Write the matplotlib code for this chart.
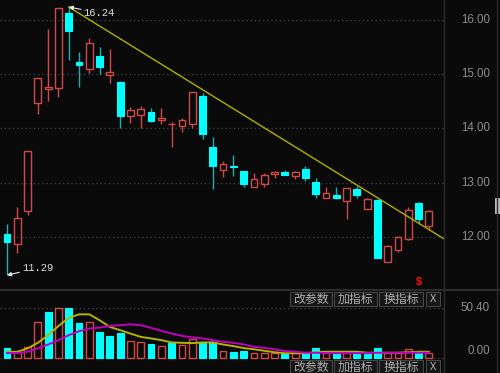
import matplotlib
matplotlib.use("Agg")
import matplotlib.pyplot as plt
from matplotlib.lines import Line2D
from matplotlib.patches import Rectangle

# ── daily k-line data ────────────────────────────────────────────────────────
opens  = [12.05, 11.87, 12.47, 14.47, 14.73, 14.75, 16.13, 15.22, 15.10, 15.34,
          14.99, 14.86, 14.23, 14.24, 14.30, 14.15, 14.08, 14.04, 14.08, 14.59,
          13.65, 13.24, 13.30, 13.22, 12.91, 12.97, 13.15, 13.19, 13.12, 13.25,
          13.01, 12.71, 12.77, 12.66, 12.88, 12.51, 12.68, 11.53, 11.76, 11.96,
          12.63, 12.20]
highs  = [12.23, 12.55, 13.58, 14.93, 15.83, 16.22, 16.24, 15.41, 15.67, 15.50,
          15.46, 14.87, 14.40, 14.42, 14.38, 14.37, 14.12, 14.20, 14.68, 14.65,
          13.84, 13.39, 13.51, 13.22, 13.18, 13.18, 13.21, 13.24, 13.21, 13.31,
          13.08, 12.92, 12.92, 12.90, 12.94, 12.72, 12.69, 11.85, 12.02, 12.54,
          12.64, 12.49]
lows   = [11.29, 11.70, 12.40, 14.26, 14.50, 14.58, 15.26, 14.76, 15.02, 15.00,
          14.84, 14.01, 14.10, 14.00, 14.12, 14.08, 13.65, 13.93, 14.01, 13.80,
          12.88, 13.10, 13.12, 12.92, 12.91, 12.92, 13.08, 13.13, 13.06, 13.02,
          12.71, 12.71, 12.69, 12.32, 12.71, 12.51, 11.60, 11.53, 11.71, 11.93,
          12.24, 12.12]
closes = [11.90, 12.35, 13.58, 14.93, 14.76, 16.22, 15.80, 15.17, 15.58, 15.13,
          15.04, 14.23, 14.33, 14.36, 14.14, 14.19, 14.08, 14.15, 14.67, 13.90,
          13.31, 13.35, 13.29, 12.97, 13.06, 13.13, 13.19, 13.13, 13.20, 13.08,
          12.78, 12.80, 12.72, 12.90, 12.77, 12.70, 11.60, 11.83, 12.00, 12.49,
          12.32, 12.48]

volumes  = [9.5, 6.0, 10.3, 36.0, 46.0, 50.4, 50.4, 35.4, 36.0, 26.0,
            22.0, 25.0, 16.7, 16.0, 13.4, 11.7, 14.4, 12.7, 18.7, 16.0,
            16.0, 6.7, 6.0, 7.0, 5.0, 5.0, 4.4, 3.4, 4.4, 6.0,
            9.4, 4.4, 4.4, 4.4, 3.7, 3.7, 9.4, 4.4, 4.4, 8.4,
            4.4, 4.4]
vol_ma5  = [6.0, 6.0, 9.4, 15.0, 22.7, 32.0, 40.0, 43.7, 43.7, 37.7,
            31.0, 27.7, 24.3, 21.0, 19.4, 17.7, 15.4, 15.0, 14.7, 15.4,
            15.4, 13.3, 11.7, 9.7, 8.5, 7.0, 5.5, 4.5, 4.5, 4.5,
            5.5, 6.0, 6.0, 6.0, 6.0, 5.0, 5.0, 5.0, 5.0, 5.5,
            6.0, 6.0]
vol_ma10 = [4.7, 4.7, 6.0, 9.4, 13.3, 17.7, 22.7, 26.7, 29.4, 30.4,
            32.0, 32.7, 33.7, 32.7, 30.0, 27.0, 24.4, 22.0, 20.4, 19.4,
            17.7, 16.0, 15.0, 13.4, 11.0, 10.0, 8.4, 6.7, 6.0, 5.0,
            5.0, 4.6, 4.6, 4.6, 4.6, 4.6, 5.0, 5.0, 5.0, 5.0,
            5.0, 5.0]

price_ticks = [12.00, 13.00, 14.00, 15.00, 16.00]
vol_ticks   = [0.00, 50.40]

# trend line drawn by the user (candle index, price)
trend_x = [6, 42.47]
trend_y = [16.24, 11.96]

hi_idx, hi_val = 6, 16.24
lo_idx, lo_val = 0, 11.29
signal_idx = [40]

buttons = ["改参数", "加指标", "换指标", "X"]

# ── colours ──────────────────────────────────────────────────────────────────
BG        = "#0a0a0a"
UP        = "#d04848"
DOWN      = "#00ffff"
DOWN_WICK = "#18b0b0"
GRID      = "#3c3c3c"
TXT       = "#8e8e8e"
FRAME     = "#2c2c2c"

W, H = 500, 373
BODY_W = 0.66

fig = plt.figure(figsize=(W / 100, H / 100), dpi=100, facecolor=BG)
plt.rcParams["font.family"] = ["Liberation Sans", "DejaVu Sans"]

ax = fig.add_axes([0, 83 / H, 444 / W, 290 / H])
axv = fig.add_axes([0, 0, 444 / W, 83 / H])

for a in (ax, axv):
    a.set_facecolor(BG)
    a.set_xticks([])
    a.set_yticks([])
    for s in a.spines.values():
        s.set_visible(False)
    a.set_xlim(-0.68, 42.47)

ax.set_ylim(11.016, 16.369)
axv.set_ylim(-15.4, 68.2)

# ── price grid + labels ──────────────────────────────────────────────────────
for p in price_ticks:
    ax.axhline(p, color=GRID, lw=1, ls=(0, (1, 2)), zorder=0)
    ax.text(490 / 444, p, f"{p:.2f}", transform=ax.get_yaxis_transform(),
            ha="right", va="center", fontsize=8.3, color=TXT)

# ── candles ──────────────────────────────────────────────────────────────────
for i, (o, h, l, c) in enumerate(zip(opens, highs, lows, closes)):
    if c >= o:
        ax.vlines(i, c, h, color=UP, lw=1, zorder=2)
        ax.vlines(i, l, o, color=UP, lw=1, zorder=2)
        ax.bar(i, c - o, BODY_W, bottom=o, facecolor="none",
               edgecolor=UP, linewidth=1, zorder=3)
    else:
        ax.vlines(i, l, h, color=DOWN_WICK, lw=1, zorder=2)
        ax.bar(i, o - c, BODY_W, bottom=c, facecolor=DOWN,
               edgecolor=DOWN, linewidth=0.8, zorder=3)

ax.plot(trend_x, trend_y, color="#b0b000", lw=1, zorder=4)

ax.annotate(f"{hi_val:.2f}", xy=(hi_idx, hi_val), xytext=(15, -6),
            textcoords="offset pixels", ha="left", va="center",
            fontsize=7.6, color="#dcdcdc", family="Liberation Mono",
            arrowprops=dict(arrowstyle="-|>", color="#e8e8e8", lw=0.8,
                            mutation_scale=6, shrinkA=0, shrinkB=0),
            zorder=5)
ax.annotate(f"{lo_val:.2f}", xy=(lo_idx, lo_val), xytext=(15, 7),
            textcoords="offset pixels", ha="left", va="center",
            fontsize=7.6, color="#dcdcdc", family="Liberation Mono",
            arrowprops=dict(arrowstyle="-|>", color="#e8e8e8", lw=0.8,
                            mutation_scale=6, shrinkA=0, shrinkB=0),
            zorder=5)

for s in signal_idx:
    ax.text(s, 11.163, "$", color="#ff1010", fontsize=8, fontweight="bold",
            ha="center", va="center", zorder=5)

# ── volume panel ─────────────────────────────────────────────────────────────
for v in vol_ticks:
    axv.axhline(v, color=GRID, lw=1, ls=(0, (1, 2)), zorder=0)
axv.text(490 / 444, vol_ticks[1], f"{vol_ticks[1]:.2f}",
         transform=axv.get_yaxis_transform(), ha="right", va="center",
         fontsize=8.3, color=TXT)
axv.text(490 / 444, vol_ticks[0] + 0.5, f"{vol_ticks[0]:.2f}",
         transform=axv.get_yaxis_transform(), ha="right", va="bottom",
         fontsize=8.3, color=TXT)

for i, v in enumerate(volumes):
    rising = closes[i] >= (closes[i - 1] if i else opens[i])
    if rising:
        axv.bar(i, v, BODY_W, facecolor="none", edgecolor=UP, linewidth=1, zorder=2)
    else:
        axv.bar(i, v, BODY_W, facecolor=DOWN, edgecolor=DOWN, linewidth=0.8, zorder=2)

idx = list(range(len(volumes)))
axv.plot(idx, vol_ma5, color="#b4b400", lw=1.4, zorder=3)
axv.plot(idx, vol_ma10, color="#c000c0", lw=1.4, zorder=3)

# ── frame lines ──────────────────────────────────────────────────────────────
fig.add_artist(Line2D([444 / W, 444 / W], [0, 1], color=FRAME, lw=1))
fig.add_artist(Line2D([497 / W, 497 / W], [0, 1], color=FRAME, lw=1))
fig.add_artist(Line2D([0, 1], [1 - 290 / H, 1 - 290 / H], color=FRAME, lw=1.5))
fig.add_artist(Rectangle((495 / W, 1 - 214 / H), 5 / W, 16 / H,
                         facecolor="#b8b8b8", edgecolor="none"))

# ── buttons (two rows) ───────────────────────────────────────────────────────
btn_left  = [290, 334, 379, 426]
btn_right = [332, 377, 423, 440]
for top, bottom in ((292, 306), (360, 378)):
    for name, x0, x1 in zip(buttons, btn_left, btn_right):
        fig.add_artist(Rectangle((x0 / W, 1 - bottom / H), (x1 - x0) / W,
                                 (bottom - top) / H, facecolor="#161616",
                                 edgecolor="#474747", lw=0.8))
        fam = ["Noto Sans CJK SC", "DejaVu Sans"]
        fig.text((x0 + x1) / 2 / W, 1 - (top + 7) / H, name, ha="center",
                 va="center", fontsize=8.6 if name != "X" else 8,
                 color="#b0b0b0", family=fam)

fig.savefig("out.png", dpi=100, facecolor=BG)
